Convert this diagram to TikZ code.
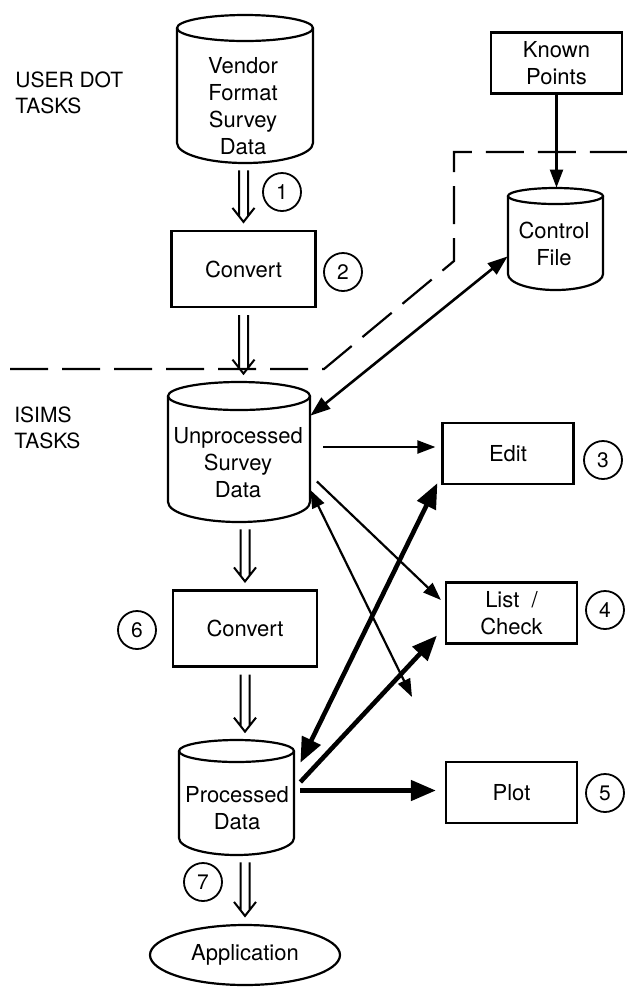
\documentclass[tikz,border=0pt]{standalone}
\usepackage{fontspec}
\setmainfont{TeX Gyre Heros}
\usetikzlibrary{arrows.meta,calc,fit,shapes.geometric}

% cylinder (data store): name, left, right, top, top radius, bottom, bottom radius
\newcommand{\drumshape}[7]{%
  \pgfmathsetmacro{\drumcx}{(#2+#3)/2}%
  \pgfmathsetmacro{\drumrx}{(#3-#2)/4}%
  \pgfmathsetmacro{\drumrt}{#5/2}%
  \pgfmathsetmacro{\drumrb}{#7/2}%
  \draw[line width=1.1pt] (\drumcx,#4+#5) ellipse[x radius=\drumrx pt, y radius=\drumrt pt];
  \draw[line width=1.1pt] (#2,#4+#5) -- (#2,#6-#7)
     arc[start angle=180, end angle=360, x radius=\drumrx pt, y radius=\drumrb pt] -- (#3,#4+#5);
  \node[fit={(#2,#4) (#3,#6)}, inner sep=0pt] (#1) {};
}

\tikzset{
  base/.style={font=\fontsize{11}{13.5}\selectfont, align=center, inner sep=0pt},
  lbl/.style={font=\fontsize{10.5}{13}\selectfont, align=left, inner sep=0pt, anchor=west},
  taskbox/.style={base, draw, line width=1.1pt, minimum width=65.5pt, minimum height=30.5pt},
  convbox/.style={base, draw, line width=1.1pt, minimum width=72pt, minimum height=38pt},
  num/.style={circle, draw, line width=0.9pt, minimum size=19pt, inner sep=0pt,
              font=\fontsize{10.5}{12}\selectfont},
  thinarr/.style={line width=1.1pt, >={Triangle[length=9pt,width=6.5pt]}},
  ctrlarr/.style={line width=1.3pt, >={Triangle[length=10pt,width=7pt]}},
  thickarr/.style={line width=2.3pt, >={Triangle[length=12.5pt,width=10pt]}},
  boundary/.style={line width=1.1pt, dash pattern=on 19pt off 7pt, dash phase=21pt},
  dbl/.style={line width=1pt, to path={
     ($(\tikztostart)+(-4.5,7)$) -- ($(\tikztotarget)+(-4.5,-14)$)
     ($(\tikztostart)+(4.5,7)$) -- ($(\tikztotarget)+(4.5,-14)$)
     ($(\tikztotarget)+(-11,-22)$) -- ($(\tikztotarget)+(0,-8)$) -- ($(\tikztotarget)+(11,-22)$)}}
}

\begin{document}
\begin{tikzpicture}[x=0.5pt,y=-0.5pt, line join=miter]
\useasboundingbox (0,0) rectangle (627,987);

% region labels
\node[lbl] (userlbl) at (15,93) {USER DOT\\TASKS};
\node[lbl] (isimslbl) at (14,427.5) {ISIMS\\TASKS};

% boundary between user and ISIMS tasks
\draw[boundary] (0,369) -- (324,369) -- (454,261) -- (454,152) -- (627,152);

% data stores
\drumshape{vend}{177}{313}{15}{13}{163}{20}
\node[base] (vendtxt) at (243,106.5) {Vendor\\Format\\Survey\\Data};

\drumshape{ctrl}{508}{603}{188}{8}{290}{16}
\node[base] (ctrltxt) at (554,243.5) {Control\\File};

\drumshape{unproc}{168}{310}{382}{14}{522}{20}
\node[base] (unproctxt) at (238,462.5) {Unprocessed\\Survey\\Data};

\drumshape{proc}{179}{294}{740}{11}{855}{17}
\node[base] (proctxt) at (237,808.5) {Processed\\Data};

% processes
\node[taskbox] (known) at (556.5,63) {Known\\Points};
\node[convbox] (conv1) at (243.5,269) {Convert};
\node[convbox] (conv2) at (245,628.5) {Convert};
\node[taskbox] (edit) at (508,453.5) {Edit};
\node[taskbox] (list) at (511.5,613) {List~~/\\Check};
\node[taskbox] (plot) at (511.5,792.5) {Plot};
\node[base, ellipse, draw, line width=1.1pt, minimum width=95pt, minimum height=30pt]
  (app) at (245,955) {Application};

% step numbers
\node[num] (n1) at (282,192) {1};
\node[num] (n2) at (343,272) {2};
\node[num] (n3) at (603,460) {3};
\node[num] (n4) at (605,610) {4};
\node[num] (n5) at (605,793) {5};
\node[num] (n6) at (137,630) {6};
\node[num] (n7) at (203,882) {7};

% main processing chain
\draw[dbl] (vend.south -| conv1.north) to (conv1.north);
\draw[dbl] (conv1.south) to (conv1.south |- unproc.north);
\draw[dbl] (unproc.south -| conv2.north) to (conv2.north);
\draw[dbl] (conv2.south) to (conv2.south |- proc.north);
\draw[dbl] (proc.south -| app.north) to (app.north);

% control data
\draw[thinarr,->] (known.south) -- (known.south |- ctrl.north);
\draw[ctrlarr,<->] (ctrl.200) -- (unproc.27);

% unprocessed survey data links
\coordinate (loose) at (412,697);
\draw[thinarr,->] ($(unproc.east |- edit.west)+(13,-6.5)$) -- ($(edit.west)+(-6,-6.5)$);
\draw[thinarr,->, shorten <=4.5pt] (unproc.-18) -- ($(list.west)+(-4,-13)$);
\draw[thinarr,<->] (unproc.-28) -- (loose);

% processed data links
\draw[thickarr,<->] ($(proc.31)+(6,0)$) -- ($(edit.south west)+(-4,-2)$);
\draw[thickarr,->] ($(proc.15)+(6,0)$) -- ($(list.south west)+(-8,-9)$);
\draw[thickarr,->] ($(proc.east |- plot.west)+(6,-2)$) -- ($(plot.west)+(-9,-2)$);
\end{tikzpicture}
\end{document}
